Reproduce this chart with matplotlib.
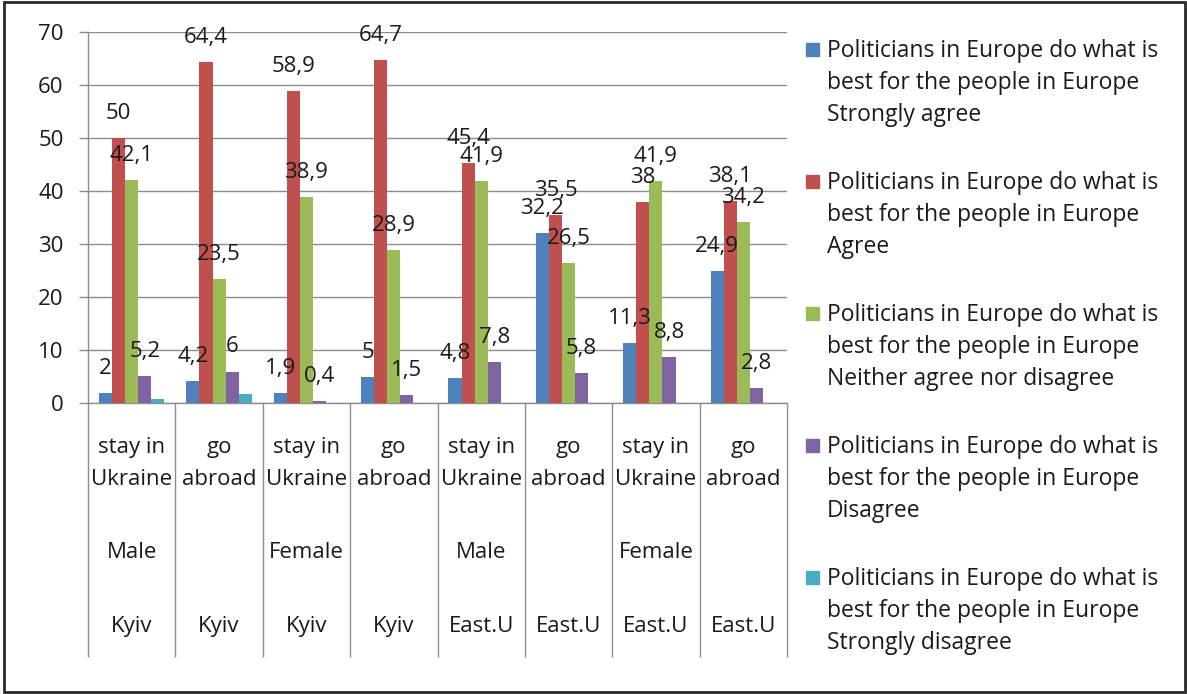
import matplotlib.pyplot as plt
import numpy as np
from matplotlib.patches import Rectangle

plt.rcParams['font.family'] = ['Open Sans', 'DejaVu Sans']

# survey answers by group (percent)
groups = ['stay in\nUkraine', 'go\nabroad', 'stay in\nUkraine', 'go\nabroad',
          'stay in\nUkraine', 'go\nabroad', 'stay in\nUkraine', 'go\nabroad']
gender = ['Male', '', 'Female', '', 'Male', '', 'Female', '']
region = ['Kyiv', 'Kyiv', 'Kyiv', 'Kyiv', 'East.U', 'East.U', 'East.U', 'East.U']

strongly_agree = [2, 4.2, 1.9, 5, 4.8, 32.2, 11.3, 24.9]
agree = [50, 64.4, 58.9, 64.7, 45.4, 35.5, 38, 38.1]
neither = [42.1, 23.5, 38.9, 28.9, 41.9, 26.5, 41.9, 34.2]
disagree = [5.2, 6, 0.4, 1.5, 7.8, 5.8, 8.8, 2.8]
strongly_disagree = [0.8, 1.7, 0, 0, 0, 0, 0, 0]

prefix = ['Politicians in Europe do what is', 'best for the people in Europe']
answers = ['Strongly agree', 'Agree', 'Neither agree nor disagree',
           'Disagree', 'Strongly disagree']
series = [strongly_agree, agree, neither, disagree, strongly_disagree]
colors = ['#4F81BD', '#C0504D', '#9BBB59', '#8064A2', '#4BACC6']
labelled = [True, True, True, True, False]

W, H = 1187, 694
fig = plt.figure(figsize=(W / 100, H / 100), dpi=100)
ax = fig.add_axes([88 / W, 1 - 403.3 / H, (787 - 88) / W, (403.3 - 32.3) / H])

grey = '#8c8c8c'
txt = '#1a1a1a'
fs = 16

x = np.arange(len(groups))
bw = 0.15
for i, (vals, col) in enumerate(zip(series, colors)):
    pos = x + (i - 2) * bw
    ax.bar(pos, vals, width=bw, color=col, zorder=3)
    if labelled[i]:
        for px, v in zip(pos, vals):
            ax.annotate(f'{v:g}'.replace('.', ','), (px, v), xytext=(0, 19),
                        textcoords='offset pixels', ha='center', va='baseline',
                        fontsize=fs, color=txt, zorder=5)

ax.set_xlim(-0.5, len(groups) - 0.5)
ax.set_ylim(0, 70)
ax.set_yticks(range(0, 71, 10))
ax.yaxis.grid(True, color=grey, lw=1.0, zorder=0)
ax.tick_params(axis='y', direction='out', length=6.5, width=1.0, color=grey,
               pad=11, labelsize=fs, labelcolor=txt)

# long ticks between groups act as the category dividers
ax.set_xticks(np.arange(-0.5, len(groups), 1.0))
ax.set_xticklabels([])
ax.tick_params(axis='x', direction='out', length=183, width=1.0, color=grey)

for s in ['top', 'right']:
    ax.spines[s].set_visible(False)
for s in ['left', 'bottom']:
    ax.spines[s].set_color(grey)
    ax.spines[s].set_linewidth(1.0)

# three-level category labels
for xi, g, sx, rg in zip(x, groups, gender, region):
    top, bottom = g.split('\n')
    for t, off in [(top, 50), (bottom, 82), (sx, 155), (rg, 229)]:
        if t:
            ax.annotate(t, (xi, 0), xycoords=('data', 'axes fraction'),
                        xytext=(0, -off), textcoords='offset pixels',
                        ha='center', va='baseline', fontsize=fs, color=txt)

# legend on the right, one line at a time
for i, (ans, col) in enumerate(zip(answers, colors)):
    base = 57 + i * 132
    fig.add_artist(Rectangle((806 / W, 1 - (base - 1) / H), 13 / W, 13 / H,
                             transform=fig.transFigure, color=col))
    for k, line in enumerate(prefix + [ans]):
        fig.text(827 / W, 1 - (base + 32 * k) / H, line, ha='left',
                 va='baseline', fontsize=16.5, color=txt)

fig.add_artist(Rectangle((4 / W, 2 / H), 1 - 6 / W, 1 - 4 / H,
                         transform=fig.transFigure, fill=False,
                         edgecolor='#2a2a2a', lw=2))

fig.savefig('out.png', dpi=100)
